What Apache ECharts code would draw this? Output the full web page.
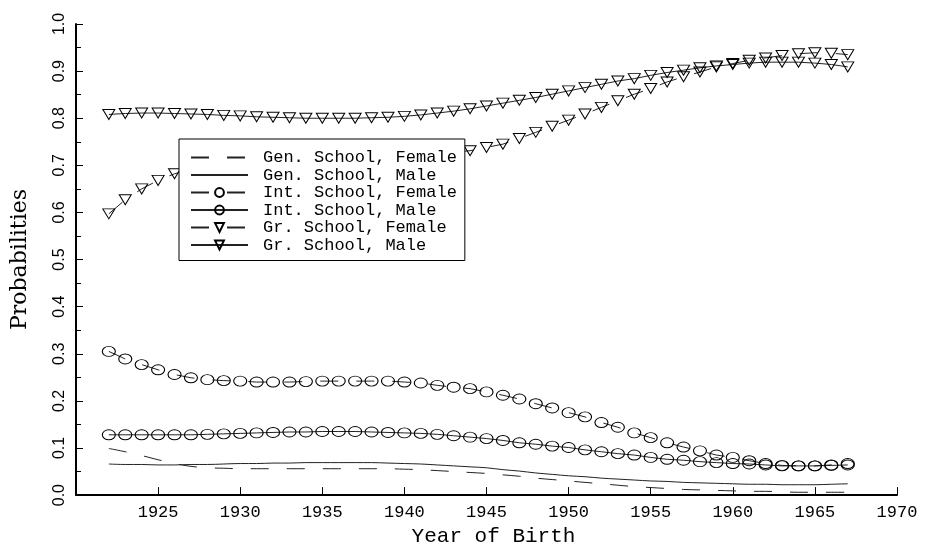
<!DOCTYPE html>
<html>
<head>
<meta charset="utf-8">
<script src="https://cdn.jsdelivr.net/npm/echarts@6/dist/echarts.min.js"></script>
<style>html,body{margin:0;padding:0;background:#fff}#c{width:925px;height:552px}</style>
</head>
<body>
<div id="c"></div>
<script>
const years = [1922,1923,1924,1925,1926,1927,1928,1929,1930,1931,1932,1933,1934,1935,1936,1937,1938,1939,1940,1941,1942,1943,1944,1945,1946,1947,1948,1949,1950,1951,1952,1953,1954,1955,1956,1957,1958,1959,1960,1961,1962,1963,1964,1965,1966,1967];
const seriesNames = ["Gen. School, Female","Gen. School, Male","Int. School, Female","Int. School, Male","Gr. School, Female","Gr. School, Male"];
const genFemale = [0.099,0.092,0.084,0.075,0.067,0.061,0.058,0.057,0.056,0.056,0.056,0.056,0.056,0.056,0.056,0.056,0.056,0.056,0.055,0.054,0.052,0.050,0.048,0.046,0.043,0.040,0.036,0.033,0.030,0.027,0.024,0.021,0.018,0.016,0.014,0.012,0.011,0.010,0.009,0.008,0.008,0.007,0.006,0.006,0.006,0.006];
const genMale = [0.066,0.065,0.065,0.064,0.064,0.065,0.065,0.066,0.067,0.067,0.068,0.068,0.069,0.069,0.069,0.069,0.069,0.068,0.067,0.066,0.064,0.062,0.060,0.058,0.054,0.051,0.047,0.044,0.041,0.039,0.036,0.034,0.032,0.030,0.029,0.027,0.026,0.025,0.024,0.023,0.023,0.022,0.022,0.022,0.023,0.024];
const intFemale = [0.305,0.289,0.277,0.266,0.256,0.249,0.245,0.243,0.242,0.240,0.240,0.240,0.241,0.242,0.242,0.242,0.242,0.242,0.240,0.238,0.233,0.229,0.226,0.219,0.212,0.204,0.194,0.185,0.175,0.166,0.154,0.144,0.132,0.122,0.111,0.102,0.094,0.085,0.080,0.073,0.067,0.063,0.062,0.062,0.064,0.067];
const intMale = [0.128,0.128,0.128,0.128,0.128,0.128,0.129,0.130,0.131,0.132,0.133,0.134,0.134,0.135,0.135,0.135,0.134,0.133,0.132,0.131,0.129,0.126,0.123,0.120,0.116,0.111,0.108,0.104,0.101,0.096,0.092,0.088,0.085,0.080,0.076,0.074,0.071,0.069,0.067,0.066,0.064,0.062,0.062,0.062,0.063,0.064];
const grFemale = [0.597,0.627,0.650,0.668,0.682,0.692,0.700,0.706,0.711,0.714,0.716,0.718,0.719,0.720,0.720,0.721,0.721,0.722,0.723,0.724,0.726,0.728,0.731,0.738,0.745,0.757,0.770,0.783,0.796,0.809,0.823,0.837,0.851,0.863,0.877,0.888,0.898,0.909,0.916,0.923,0.928,0.933,0.937,0.939,0.938,0.935];
const grMale = [0.808,0.810,0.811,0.811,0.810,0.809,0.808,0.806,0.805,0.803,0.802,0.801,0.800,0.800,0.800,0.800,0.801,0.802,0.804,0.807,0.811,0.815,0.820,0.826,0.832,0.838,0.844,0.851,0.858,0.865,0.872,0.879,0.884,0.891,0.897,0.902,0.907,0.911,0.914,0.917,0.919,0.919,0.919,0.917,0.914,0.909];
const xTicks = [1925,1930,1935,1940,1945,1950,1955,1960,1965,1970];
const yTicks = [0.0,0.1,0.2,0.3,0.4,0.5,0.6,0.7,0.8,0.9,1.0];

const pairs = v => years.map((y, i) => [y, v[i]]);
const DASH = [18, 18];
const TRI = 'path://M0,0 L12,0 L6,10 Z';
const hollow = { color: 'rgba(255,255,255,0)', borderColor: '#000', borderWidth: 1 };

function mk(name, vals, dashed, symbol, size, smooth) {
  return {
    name: name, type: 'line', data: pairs(vals),
    symbol: symbol || 'none', symbolSize: size || 0, showSymbol: !!symbol,
    smooth: smooth ? 0.35 : false,
    lineStyle: { color: '#222', width: 1, type: dashed ? DASH : 'solid' },
    itemStyle: hollow,
    emphasis: { disabled: true }, animation: false
  };
}

const legendData = seriesNames.map((n, i) => i < 2 ? { name: n, itemStyle: { opacity: 0, borderWidth: 0 } } : { name: n });

const chart = echarts.init(document.getElementById('c'), null, { renderer: 'canvas' });
chart.setOption({
  backgroundColor: '#fff',
  animation: false,
  grid: { left: 76, right: 28, top: 24, bottom: 54 },
  legend: {
    orient: 'vertical', left: 179, top: 139,
    padding: [10, 8, 7, 11],
    itemGap: 0.5, itemWidth: 57, itemHeight: 11,
    backgroundColor: '#fff', borderColor: '#000', borderWidth: 1,
    textStyle: { fontFamily: 'Liberation Mono', fontSize: 17, color: '#000', padding: [0, 0, 0, 10], lineHeight: 16 },
    data: legendData, selectedMode: false
  },
  xAxis: {
    type: 'value', min: 1920, max: 1970, interval: 5,
    name: 'Year of Birth', nameLocation: 'middle', nameGap: 27,
    nameTextStyle: { fontFamily: 'Liberation Mono', fontSize: 21, color: '#000', padding: [0, 0, 0, 14] },
    axisLine: { onZero: false, lineStyle: { color: '#000', width: 2 } },
    axisTick: { inside: true, length: 8, lineStyle: { color: '#000', width: 1 },
      customValues: xTicks },
    axisLabel: { fontFamily: 'Liberation Mono', fontSize: 17, color: '#000', margin: 9,
      customValues: xTicks, formatter: v => String(v) },
    splitLine: { show: false }
  },
  yAxis: {
    type: 'value', min: 0, max: 1, interval: 0.1,
    name: 'Probabilities', nameLocation: 'middle', nameGap: 45,
    nameTextStyle: { fontFamily: 'DejaVu Serif', fontSize: 22, color: '#000' },
    axisLine: { show: true, lineStyle: { color: '#000', width: 2 } },
    axisTick: { show: true, inside: true, length: 7, lineStyle: { color: '#000', width: 1 } },
    minorTick: { show: true, splitNumber: 2, length: 5, lineStyle: { color: '#000', width: 1 } },
    axisLabel: { fontFamily: 'Liberation Sans', fontSize: 16, color: '#000', rotate: 90, margin: 8,
      customValues: yTicks, formatter: v => v.toFixed(1) },
    splitLine: { show: false }
  },
  series: [
    mk(seriesNames[0], genFemale, true, null, 0, true),
    mk(seriesNames[1], genMale, false, null, 0, true),
    mk(seriesNames[2], intFemale, true, 'circle', [13, 10]),
    mk(seriesNames[3], intMale, false, 'circle', [13, 10]),
    mk(seriesNames[4], grFemale, true, TRI, [12, 10]),
    mk(seriesNames[5], grMale, false, TRI, [12, 10])
  ]
});
</script>
</body>
</html>
